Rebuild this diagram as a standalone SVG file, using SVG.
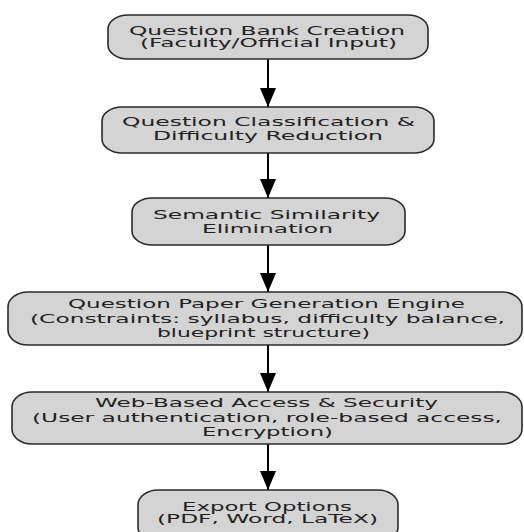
<svg xmlns="http://www.w3.org/2000/svg" width="524" height="532" viewBox="0 0 524 532">
<style>
.box{fill:#d4d4d4;stroke:#2a2a2a;stroke-width:1.6}
.t{font-family:"DejaVu Sans",sans-serif;font-size:12.3px;fill:#222;text-anchor:middle}
.edge{stroke:#000;stroke-width:2;fill:none}
</style>
<defs>
<marker id="ah" markerUnits="userSpaceOnUse" markerWidth="20" markerHeight="16" refX="19" refY="8" orient="auto">
<path d="M0,0 L19,8 L0,16 Z" fill="#000"/>
</marker>
</defs>
<rect width="524" height="532" fill="#fff"/>
<g id="edges">
<path class="edge" d="M268,59 V107" marker-end="url(#ah)"/>
<path class="edge" d="M268,153 V198" marker-end="url(#ah)"/>
<path class="edge" d="M268,245 V292" marker-end="url(#ah)"/>
<path class="edge" d="M268,345 V392" marker-end="url(#ah)"/>
<path class="edge" d="M268,444 V490" marker-end="url(#ah)"/>
</g>
<g id="n1">
<rect class="box" x="108" y="15" width="320" height="44" rx="20" ry="14"/>
<text class="t" x="267" y="34.5" textLength="276" lengthAdjust="spacingAndGlyphs">Question Bank Creation</text>
<text class="t" x="268.5" y="47" textLength="257" lengthAdjust="spacingAndGlyphs">(Faculty/Official Input)</text>
</g>
<g id="n2">
<rect class="box" x="102" y="107" width="332" height="46" rx="20" ry="14"/>
<text class="t" x="268.5" y="126" textLength="293" lengthAdjust="spacingAndGlyphs">Question Classification &amp;</text>
<text class="t" x="268" y="139.5" textLength="230" lengthAdjust="spacingAndGlyphs">Difficulty Reduction</text>
</g>
<g id="n3">
<rect class="box" x="132" y="198" width="273" height="47" rx="20" ry="14"/>
<text class="t" x="266.5" y="219" textLength="227" lengthAdjust="spacingAndGlyphs">Semantic Similarity</text>
<text class="t" x="267.5" y="232.5" textLength="131" lengthAdjust="spacingAndGlyphs">Elimination</text>
</g>
<g id="n4">
<rect class="box" x="8" y="292" width="514" height="53" rx="20" ry="15"/>
<text class="t" x="266.5" y="308" textLength="397" lengthAdjust="spacingAndGlyphs">Question Paper Generation Engine</text>
<text class="t" x="267.5" y="322.5" textLength="475" lengthAdjust="spacingAndGlyphs">(Constraints: syllabus, difficulty balance,</text>
<text class="t" x="263.5" y="336.5" textLength="213" lengthAdjust="spacingAndGlyphs">blueprint structure)</text>
</g>
<g id="n5">
<rect class="box" x="12" y="392" width="510" height="52" rx="20" ry="15"/>
<text class="t" x="266.5" y="407" textLength="343" lengthAdjust="spacingAndGlyphs">Web-Based Access &amp; Security</text>
<text class="t" x="267" y="421.5" textLength="470" lengthAdjust="spacingAndGlyphs">(User authentication, role-based access,</text>
<text class="t" x="267.5" y="435.5" textLength="131" lengthAdjust="spacingAndGlyphs">Encryption)</text>
</g>
<g id="n6">
<rect class="box" x="138" y="490" width="260" height="52" rx="20" ry="15"/>
<text class="t" x="267" y="510.5" textLength="170" lengthAdjust="spacingAndGlyphs">Export Options</text>
<text class="t" x="267.5" y="523" textLength="221" lengthAdjust="spacingAndGlyphs">(PDF, Word, LaTeX)</text>
</g>
</svg>
